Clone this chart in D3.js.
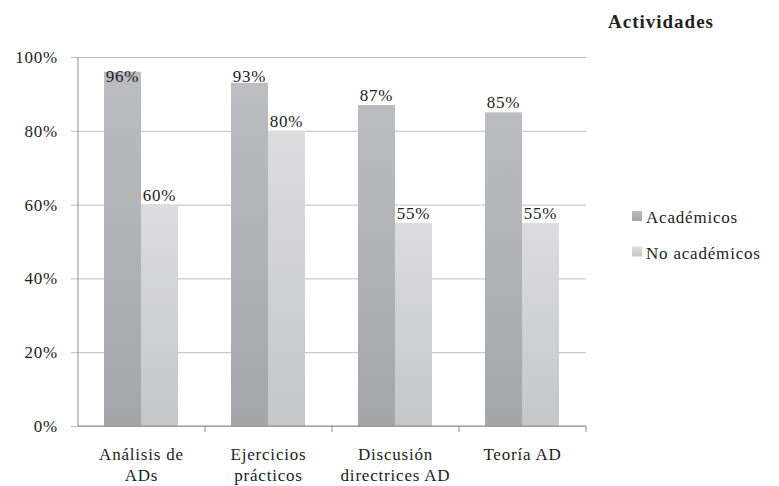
<!DOCTYPE html>
<html>
<head>
<meta charset="utf-8">
<script src="https://cdn.jsdelivr.net/npm/d3@7/dist/d3.min.js"></script>
<style>
  body { margin: 0; background: #fff; }
</style>
</head>
<body>
<div id="chart"></div>
<script>
// data
var categories = [["Análisis de", "ADs"], ["Ejercicios", "prácticos"], ["Discusión", "directrices AD"], ["Teoría AD"]];
var seriesNames = ["Académicos", "No académicos"];
var academicos = [0.96, 0.93, 0.87, 0.85];
var noAcademicos = [0.60, 0.80, 0.55, 0.55];
var yTicks = [0, 0.2, 0.4, 0.6, 0.8, 1.0];

var width = 779, height = 486;
var margin = { top: 57, right: 193, bottom: 60, left: 78 };
var innerW = 586 - margin.left;
var innerH = 426 - margin.top;

var svg = d3.select("#chart").append("svg")
  .attr("width", width).attr("height", height);

// helper: serif text
function txt(parent, x, y, str, anchor) {
  return parent.append("text")
    .attr("x", x).attr("y", y)
    .attr("text-anchor", anchor || "start")
    .style("font-family", "'Liberation Serif'")
    .style("font-size", "17px")
    .style("letter-spacing", "0.8px")
    .style("fill", "#222")
    .text(str);
}

// gradients for bars
var defs = svg.append("defs");
var grads = [["gA", "#bcbdc0", "#a5a6a9"], ["gN", "#dcdcde", "#c5c6c8"]];
grads.forEach(function(gd) {
  var lg = defs.append("linearGradient").attr("id", gd[0])
    .attr("x1", 0).attr("y1", 0).attr("x2", 0).attr("y2", 1);
  lg.append("stop").attr("offset", "0%").attr("stop-color", gd[1]);
  lg.append("stop").attr("offset", "100%").attr("stop-color", gd[2]);
});
var fills = ["url(#gA)", "url(#gN)"];

var g = svg.append("g").attr("transform", "translate(" + margin.left + "," + margin.top + ")");

var idx = d3.range(categories.length);
var x0 = d3.scaleBand().domain(idx).range([0, innerW]).paddingInner(0).paddingOuter(0);
var x1 = d3.scaleBand().domain([0, 1]).range([26, x0.bandwidth() - 27]);
var y = d3.scaleLinear().domain([0, 1]).range([innerH, 0]);

// gridlines from the d3 axis, labels drawn with the helper
var yAxis = d3.axisLeft(y).tickValues(yTicks).tickFormat("").tickSize(-innerW).tickSizeOuter(0);
var yG = g.append("g").call(yAxis).attr("font-family", null);
yG.select(".domain").remove();
yG.selectAll(".tick text").remove();
yG.selectAll(".tick line").attr("stroke", "#bdbdbd").attr("x1", -7).attr("x2", innerW);
yTicks.forEach(function(t) {
  txt(g, -20, y(t) + 6, d3.format(".0%")(t), "end");
});
g.append("line").attr("x1", 0).attr("x2", 0).attr("y1", 0).attr("y2", innerH)
  .attr("stroke", "#8c8c8c");

// bars + value labels
var seriesVals = [academicos, noAcademicos];
seriesVals.forEach(function(vals, s) {
  g.selectAll(".bar" + s).data(vals).enter().append("rect")
    .attr("x", function(d, i) { return x0(i) + x1(s); })
    .attr("y", function(d) { return y(d); })
    .attr("width", x1.bandwidth())
    .attr("height", function(d) { return innerH - y(d); })
    .attr("fill", fills[s]);
  vals.forEach(function(d, i) {
    txt(g, x0(i) + x1(s) + x1.bandwidth() / 2, Math.max(y(d) - 4, 25), Math.round(d * 100) + "%", "middle");
  });
});

// x axis
g.append("line").attr("x1", 0).attr("x2", innerW).attr("y1", innerH).attr("y2", innerH)
  .attr("stroke", "#8c8c8c");
idx.forEach(function(i) {
  g.append("line").attr("x1", x0(i) + x0.bandwidth()).attr("x2", x0(i) + x0.bandwidth())
    .attr("y1", innerH).attr("y2", innerH + 6).attr("stroke", "#8c8c8c");
  categories[i].forEach(function(line, k) {
    txt(g, x0(i) + x0.bandwidth() / 2, innerH + 34 + k * 21, line, "middle");
  });
});

// title
svg.append("text").attr("x", 608).attr("y", 28)
  .attr("font-family", "Liberation Serif").attr("font-size", 19).attr("font-weight", "bold")
  .style("letter-spacing", "1px").style("fill", "#222")
  .text("Actividades");

// legend
seriesNames.forEach(function(name, s) {
  var ly = 211 + s * 35.5;
  svg.append("rect").attr("x", 632).attr("y", ly).attr("width", 10).attr("height", 10).attr("fill", fills[s]);
  txt(svg, 646, ly + 12, name, "start");
});
</script>
</body>
</html>
